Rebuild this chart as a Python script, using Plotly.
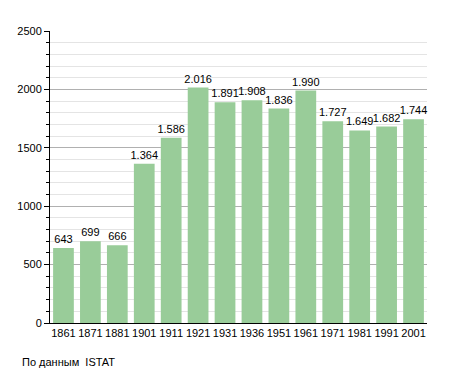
import plotly.graph_objects as go

years = ["1861", "1871", "1881", "1901", "1911", "1921", "1931", "1936", "1951", "1961", "1971", "1981", "1991", "2001"]
population = [643, 699, 666, 1364, 1586, 2016, 1891, 1908, 1836, 1990, 1727, 1649, 1682, 1744]
labels = [f"{v:,}".replace(",", ".") for v in population]
y_ticks = [0, 500, 1000, 1500, 2000, 2500]
source_note = "По данным  ISTAT"

# The page body has an 8px default margin, so the figure is sized to fit inside.
W, H = 447, 365
L, T, R, B = 42, 23, 28, 50
pw, ph = W - L - R, H - T - B

fig = go.Figure(go.Bar(
    x=years, y=population, text=labels, textposition="outside",
    constraintext="none", textangle=0,
    marker=dict(color="rgb(153,204,153)", line=dict(width=0)),
    textfont=dict(size=11, color="black"), cliponaxis=False,
))

fig.update_layout(
    width=W, height=H,
    margin=dict(l=L, r=R, t=T, b=B),
    paper_bgcolor="white", plot_bgcolor="white",
    font=dict(family="Liberation Sans, Arial, sans-serif", size=11, color="black"),
    bargap=0.23, showlegend=False,
    xaxis=dict(type="category", range=[-0.5, 13.5], showline=True, linecolor="black",
               linewidth=1, ticks="", showgrid=False, tickfont=dict(size=11),
               automargin=False),
    yaxis=dict(range=[0, 2500], tickvals=y_ticks, showline=True, linecolor="black",
               linewidth=1, ticks="outside", ticklen=5, tickcolor="black",
               showgrid=True, gridcolor="#b0b0b0", gridwidth=1, zeroline=False,
               minor=dict(dtick=100, ticks="outside", ticklen=3, tickcolor="black",
                          showgrid=True, gridcolor="#e4e4e4", gridwidth=1),
               tickfont=dict(size=11), automargin=False),
)
fig.add_annotation(text=source_note, xref="paper", yref="paper",
                   x=(12 - L) / pw, y=-(354 - (T + ph)) / ph,
                   xanchor="left", yanchor="middle", showarrow=False,
                   font=dict(size=11, color="black"))
fig.write_html("out.html")
